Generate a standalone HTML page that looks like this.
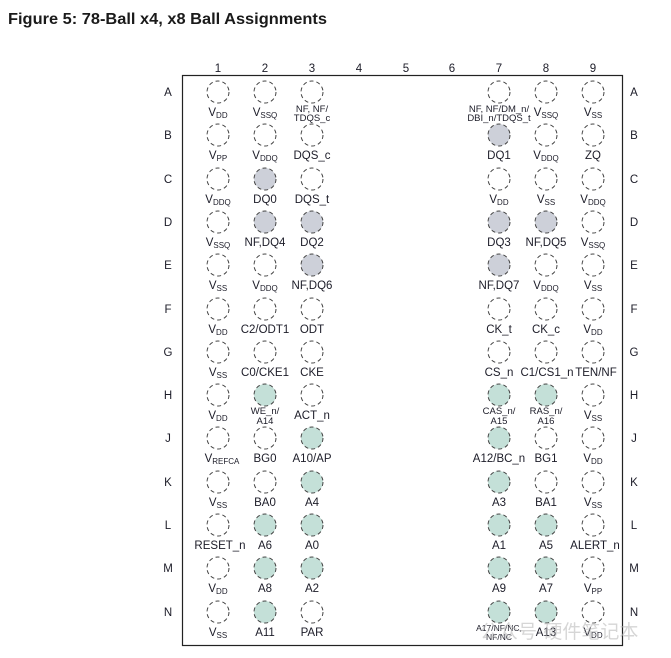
<!DOCTYPE html>
<html><head><meta charset="utf-8"><style>
html,body{margin:0;padding:0;background:#fff;width:671px;height:658px;overflow:hidden}
svg{display:block}
text{font-family:"Liberation Sans",Arial,sans-serif;fill:#1c1c28}
.t{font-size:11.5px;text-anchor:middle}
.s{font-size:9.5px;text-anchor:middle}
.sub{font-size:8px}
.h{font-size:11.5px;text-anchor:middle}
circle{stroke:#444;stroke-width:1;stroke-dasharray:4 3;fill:#fff}
.g{fill:#cdd0d9}
.n{fill:#c4e0d8}
</style></head><body>
<svg width="671" height="658" viewBox="0 0 671 658">
<text x="8" y="24" textLength="319" lengthAdjust="spacingAndGlyphs" style="font-size:16px;font-weight:bold;fill:#1a1a1a">Figure 5: 78-Ball x4, x8 Ball Assignments</text>
<rect x="182.5" y="75.5" width="440" height="570" fill="none" stroke="#222" stroke-width="1.2"/>
<g>
<text x="218" y="72" class="h">1</text><text x="265" y="72" class="h">2</text><text x="312" y="72" class="h">3</text><text x="359" y="72" class="h">4</text><text x="406" y="72" class="h">5</text><text x="452" y="72" class="h">6</text><text x="499" y="72" class="h">7</text><text x="546" y="72" class="h">8</text><text x="593" y="72" class="h">9</text>
</g>
<g>
<text x="168" y="96" class="h">A</text><text x="634" y="96" class="h">A</text>
<text x="168" y="139" class="h">B</text><text x="634" y="139" class="h">B</text>
<text x="168" y="183" class="h">C</text><text x="634" y="183" class="h">C</text>
<text x="168" y="226" class="h">D</text><text x="634" y="226" class="h">D</text>
<text x="168" y="269" class="h">E</text><text x="634" y="269" class="h">E</text>
<text x="168" y="313" class="h">F</text><text x="634" y="313" class="h">F</text>
<text x="168" y="356" class="h">G</text><text x="634" y="356" class="h">G</text>
<text x="168" y="399" class="h">H</text><text x="634" y="399" class="h">H</text>
<text x="168" y="442" class="h">J</text><text x="634" y="442" class="h">J</text>
<text x="168" y="486" class="h">K</text><text x="634" y="486" class="h">K</text>
<text x="168" y="529" class="h">L</text><text x="634" y="529" class="h">L</text>
<text x="168" y="572" class="h">M</text><text x="634" y="572" class="h">M</text>
<text x="168" y="616" class="h">N</text><text x="634" y="616" class="h">N</text>
</g>
<g>
<circle cx="218" cy="92" r="11"/><circle cx="265" cy="92" r="11"/><circle cx="312" cy="92" r="11"/><circle cx="499" cy="92" r="11"/><circle cx="546" cy="92" r="11"/><circle cx="593" cy="92" r="11"/>
<circle cx="218" cy="135" r="11"/><circle cx="265" cy="135" r="11"/><circle cx="312" cy="135" r="11"/><circle class="g" cx="499" cy="135" r="11"/><circle cx="546" cy="135" r="11"/><circle cx="593" cy="135" r="11"/>
<circle cx="218" cy="179" r="11"/><circle class="g" cx="265" cy="179" r="11"/><circle cx="312" cy="179" r="11"/><circle cx="499" cy="179" r="11"/><circle cx="546" cy="179" r="11"/><circle cx="593" cy="179" r="11"/>
<circle cx="218" cy="222" r="11"/><circle class="g" cx="265" cy="222" r="11"/><circle class="g" cx="312" cy="222" r="11"/><circle class="g" cx="499" cy="222" r="11"/><circle class="g" cx="546" cy="222" r="11"/><circle cx="593" cy="222" r="11"/>
<circle cx="218" cy="265" r="11"/><circle cx="265" cy="265" r="11"/><circle class="g" cx="312" cy="265" r="11"/><circle class="g" cx="499" cy="265" r="11"/><circle cx="546" cy="265" r="11"/><circle cx="593" cy="265" r="11"/>
<circle cx="218" cy="309" r="11"/><circle cx="265" cy="309" r="11"/><circle cx="312" cy="309" r="11"/><circle cx="499" cy="309" r="11"/><circle cx="546" cy="309" r="11"/><circle cx="593" cy="309" r="11"/>
<circle cx="218" cy="352" r="11"/><circle cx="265" cy="352" r="11"/><circle cx="312" cy="352" r="11"/><circle cx="499" cy="352" r="11"/><circle cx="546" cy="352" r="11"/><circle cx="593" cy="352" r="11"/>
<circle cx="218" cy="395" r="11"/><circle class="n" cx="265" cy="395" r="11"/><circle cx="312" cy="395" r="11"/><circle class="n" cx="499" cy="395" r="11"/><circle class="n" cx="546" cy="395" r="11"/><circle cx="593" cy="395" r="11"/>
<circle cx="218" cy="438" r="11"/><circle cx="265" cy="438" r="11"/><circle class="n" cx="312" cy="438" r="11"/><circle class="n" cx="499" cy="438" r="11"/><circle cx="546" cy="438" r="11"/><circle cx="593" cy="438" r="11"/>
<circle cx="218" cy="482" r="11"/><circle cx="265" cy="482" r="11"/><circle class="n" cx="312" cy="482" r="11"/><circle class="n" cx="499" cy="482" r="11"/><circle cx="546" cy="482" r="11"/><circle cx="593" cy="482" r="11"/>
<circle cx="218" cy="525" r="11"/><circle class="n" cx="265" cy="525" r="11"/><circle class="n" cx="312" cy="525" r="11"/><circle class="n" cx="499" cy="525" r="11"/><circle class="n" cx="546" cy="525" r="11"/><circle cx="593" cy="525" r="11"/>
<circle cx="218" cy="568" r="11"/><circle class="n" cx="265" cy="568" r="11"/><circle class="n" cx="312" cy="568" r="11"/><circle class="n" cx="499" cy="568" r="11"/><circle class="n" cx="546" cy="568" r="11"/><circle cx="593" cy="568" r="11"/>
<circle cx="218" cy="612" r="11"/><circle class="n" cx="265" cy="612" r="11"/><circle cx="312" cy="612" r="11"/><circle class="n" cx="499" cy="612" r="11"/><circle class="n" cx="546" cy="612" r="11"/><circle cx="593" cy="612" r="11"/>
</g>
<g>
<text class="t" x="218" y="116">V<tspan class="sub" dy="2">DD</tspan></text>
<text class="t" x="265" y="116">V<tspan class="sub" dy="2">SSQ</tspan></text>
<text class="s" x="312" y="112">NF, NF/</text><text class="s" x="312" y="121">TDQS_c</text>
<text class="s" x="499" y="112">NF, NF/DM_n/</text><text class="s" x="499" y="121">DBI_n/TDQS_t</text>
<text class="t" x="546" y="116">V<tspan class="sub" dy="2">SSQ</tspan></text>
<text class="t" x="593" y="116">V<tspan class="sub" dy="2">SS</tspan></text>
<text class="t" x="218" y="159">V<tspan class="sub" dy="2">PP</tspan></text>
<text class="t" x="265" y="159">V<tspan class="sub" dy="2">DDQ</tspan></text>
<text class="t" x="312" y="159">DQS_c</text>
<text class="t" x="499" y="159">DQ1</text>
<text class="t" x="546" y="159">V<tspan class="sub" dy="2">DDQ</tspan></text>
<text class="t" x="593" y="159">ZQ</text>
<text class="t" x="218" y="203">V<tspan class="sub" dy="2">DDQ</tspan></text>
<text class="t" x="265" y="203">DQ0</text>
<text class="t" x="312" y="203">DQS_t</text>
<text class="t" x="499" y="203">V<tspan class="sub" dy="2">DD</tspan></text>
<text class="t" x="546" y="203">V<tspan class="sub" dy="2">SS</tspan></text>
<text class="t" x="593" y="203">V<tspan class="sub" dy="2">DDQ</tspan></text>
<text class="t" x="218" y="246">V<tspan class="sub" dy="2">SSQ</tspan></text>
<text class="t" x="265" y="246">NF,DQ4</text>
<text class="t" x="312" y="246">DQ2</text>
<text class="t" x="499" y="246">DQ3</text>
<text class="t" x="546" y="246">NF,DQ5</text>
<text class="t" x="593" y="246">V<tspan class="sub" dy="2">SSQ</tspan></text>
<text class="t" x="218" y="289">V<tspan class="sub" dy="2">SS</tspan></text>
<text class="t" x="265" y="289">V<tspan class="sub" dy="2">DDQ</tspan></text>
<text class="t" x="312" y="289">NF,DQ6</text>
<text class="t" x="499" y="289">NF,DQ7</text>
<text class="t" x="546" y="289">V<tspan class="sub" dy="2">DDQ</tspan></text>
<text class="t" x="593" y="289">V<tspan class="sub" dy="2">SS</tspan></text>
<text class="t" x="218" y="333">V<tspan class="sub" dy="2">DD</tspan></text>
<text class="t" x="265" y="333">C2/ODT1</text>
<text class="t" x="312" y="333">ODT</text>
<text class="t" x="499" y="333">CK_t</text>
<text class="t" x="546" y="333">CK_c</text>
<text class="t" x="593" y="333">V<tspan class="sub" dy="2">DD</tspan></text>
<text class="t" x="218" y="376">V<tspan class="sub" dy="2">SS</tspan></text>
<text class="t" x="265" y="376">C0/CKE1</text>
<text class="t" x="312" y="376">CKE</text>
<text class="t" x="499" y="376">CS_n</text>
<text class="t" x="547" y="376">C1/CS1_n</text>
<text class="t" x="596" y="376">TEN/NF</text>
<text class="t" x="218" y="419">V<tspan class="sub" dy="2">DD</tspan></text>
<text class="s" x="265" y="414">WE_n/</text><text class="s" x="265" y="424">A14</text>
<text class="t" x="312" y="419">ACT_n</text>
<text class="s" x="499" y="414">CAS_n/</text><text class="s" x="499" y="424">A15</text>
<text class="s" x="546" y="414">RAS_n/</text><text class="s" x="546" y="424">A16</text>
<text class="t" x="593" y="419">V<tspan class="sub" dy="2">SS</tspan></text>
<text class="t" x="222" y="462">V<tspan class="sub" dy="2">REFCA</tspan></text>
<text class="t" x="265" y="462">BG0</text>
<text class="t" x="312" y="462">A10/AP</text>
<text class="t" x="499" y="462">A12/BC_n</text>
<text class="t" x="546" y="462">BG1</text>
<text class="t" x="593" y="462">V<tspan class="sub" dy="2">DD</tspan></text>
<text class="t" x="218" y="506">V<tspan class="sub" dy="2">SS</tspan></text>
<text class="t" x="265" y="506">BA0</text>
<text class="t" x="312" y="506">A4</text>
<text class="t" x="499" y="506">A3</text>
<text class="t" x="546" y="506">BA1</text>
<text class="t" x="593" y="506">V<tspan class="sub" dy="2">SS</tspan></text>
<text class="t" x="220" y="549">RESET_n</text>
<text class="t" x="265" y="549">A6</text>
<text class="t" x="312" y="549">A0</text>
<text class="t" x="499" y="549">A1</text>
<text class="t" x="546" y="549">A5</text>
<text class="t" x="595" y="549">ALERT_n</text>
<text class="t" x="218" y="592">V<tspan class="sub" dy="2">DD</tspan></text>
<text class="t" x="265" y="592">A8</text>
<text class="t" x="312" y="592">A2</text>
<text class="t" x="499" y="592">A9</text>
<text class="t" x="546" y="592">A7</text>
<text class="t" x="593" y="592">V<tspan class="sub" dy="2">PP</tspan></text>
<text class="t" x="218" y="636">V<tspan class="sub" dy="2">SS</tspan></text>
<text class="t" x="265" y="636">A11</text>
<text class="t" x="312" y="636">PAR</text>
<text class="s" x="499" y="631" style="font-size:8.5px">A17/NF/NC,</text><text class="s" x="499" y="640" style="font-size:8.5px">NF/NC</text>
<text class="t" x="546" y="636">A13</text>
<text class="t" x="593" y="636">V<tspan class="sub" dy="2">DD</tspan></text>
</g>
<text x="480" y="638" style="font-family:'Liberation Sans','Noto Sans CJK SC',sans-serif;font-size:19px;fill:#bbb;opacity:0.6">公众号·硬件笔记本</text>
</svg>
</body></html>
